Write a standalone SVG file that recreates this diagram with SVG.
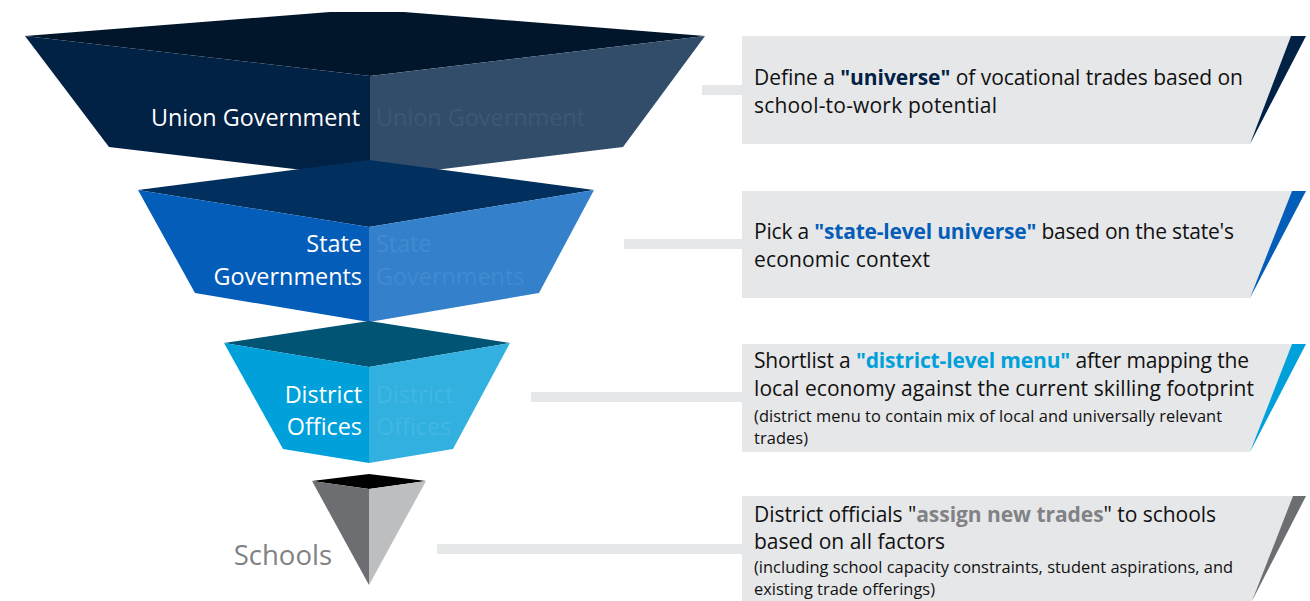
<svg xmlns="http://www.w3.org/2000/svg" width="1310" height="601" viewBox="0 0 1310 601">
<style>
  .lbl{font-family:"Open Sans","Noto Sans",sans-serif;font-size:23.4px;fill:#ffffff;text-anchor:end}
  .ghost{font-family:"Open Sans","Noto Sans",sans-serif;font-size:23.4px}
  .bar{fill:#e6e7e8}
  .box{fill:#e6e7e8}
  .bt{font-family:"Open Sans","Noto Sans",sans-serif;font-size:21px;fill:#111111}
  .sm{font-family:"Open Sans","Noto Sans",sans-serif;font-size:16.4px;fill:#111111}
  .b{font-weight:bold}
</style>
<rect width="1310" height="601" fill="#ffffff"/>

<g id="connectors">
  <rect class="bar" x="702" y="85" width="42" height="10"/>
  <rect class="bar" x="624" y="239" width="120" height="10"/>
  <rect class="bar" x="531" y="392" width="213" height="10"/>
  <rect class="bar" x="437" y="544" width="307" height="10"/>
</g>

<g id="union-government">
  <polygon points="25,36 330,12 404,12 705,36 370,76" fill="#01162b"/>
  <polygon points="25,36 370,76 370,178 109,147" fill="#012145"/>
  <polygon points="370,76 705,36 623,147 370,178" fill="#324d6a"/>
  <text class="lbl" x="360" y="126">Union Government</text>
  <text class="ghost" x="376" y="126" fill="#3b5876">Union Government</text>
</g>

<g id="state-governments">
  <polygon points="138,190 369,160 594,190 369,227" fill="#01305f"/>
  <polygon points="138,190 369,227 369,322 195,293" fill="#045db8"/>
  <polygon points="369,227 594,190 539,293 369,322" fill="#3580ca"/>
  <text class="lbl" x="362" y="252">State</text>
  <text class="lbl" x="362" y="285">Governments</text>
  <text class="ghost" x="376" y="252" fill="#418bd1">State</text>
  <text class="ghost" x="376" y="285" fill="#418bd1">Governments</text>
</g>

<g id="district-offices">
  <polygon points="224,343 369,321 510,343 369,367" fill="#025474"/>
  <polygon points="224,343 369,367 369,463 283,449" fill="#00a0da"/>
  <polygon points="369,367 510,343 453,449 369,463" fill="#32b0e0"/>
  <text class="lbl" x="362" y="403">District</text>
  <text class="lbl" x="362" y="435">Offices</text>
  <text class="ghost" x="376" y="403" fill="#42b7e3">District</text>
  <text class="ghost" x="376" y="435" fill="#42b7e3">Offices</text>
</g>

<g id="schools">
  <polygon points="312,481 369,474 426,481 369,489" fill="#000000"/>
  <polygon points="312,481 369,489 369,585" fill="#6d6e71"/>
  <polygon points="369,489 426,481 369,585" fill="#bcbec0"/>
  <text x="332" y="565" text-anchor="end" font-family="Open Sans, Noto Sans, sans-serif" font-size="27.5" fill="#808285">Schools</text>
</g>

<g id="box-union">
  <polygon class="box" points="742,36 1291,36 1250,144 742,144"/>
  <polygon points="1291,36 1306,36 1250,144" fill="#012145"/>
  <text class="bt" x="754" y="85" textLength="489" lengthAdjust="spacing">Define a <tspan class="b" fill="#012145">"universe"</tspan> of vocational trades based on</text>
  <text class="bt" x="754" y="113" textLength="243" lengthAdjust="spacing">school-to-work potential</text>
</g>

<g id="box-state">
  <polygon class="box" points="742,191 1292,191 1250,298 742,298"/>
  <polygon points="1292,191 1306,191 1250,298" fill="#045db8"/>
  <text class="bt" x="754" y="239" textLength="480" lengthAdjust="spacing">Pick a <tspan class="b" fill="#045db8">"state-level universe"</tspan> based on the state's</text>
  <text class="bt" x="754" y="267" textLength="176" lengthAdjust="spacing">economic context</text>
</g>

<g id="box-district">
  <polygon class="box" points="742,344 1292,344 1250,452 742,452"/>
  <polygon points="1292,344 1306,344 1250,452" fill="#00a0da"/>
  <text class="bt" x="754" y="368" textLength="495" lengthAdjust="spacing">Shortlist a <tspan class="b" fill="#00a0da">"district-level menu"</tspan> after mapping the</text>
  <text class="bt" x="754" y="396" textLength="500" lengthAdjust="spacing">local economy against the current skilling footprint</text>
  <text class="sm" x="754" y="422" textLength="468" lengthAdjust="spacing">(district menu to contain mix of local and universally relevant</text>
  <text class="sm" x="754" y="444" textLength="54" lengthAdjust="spacing">trades)</text>
</g>

<g id="box-schools">
  <polygon class="box" points="742,496 1293,496 1252,601 742,601"/>
  <polygon points="1293,496 1306,496 1252,601" fill="#6d6e71"/>
  <text class="bt" x="754" y="522" textLength="462" lengthAdjust="spacing">District officials "<tspan class="b" fill="#808285">assign new trades</tspan>" to schools</text>
  <text class="bt" x="754" y="549" textLength="191" lengthAdjust="spacing">based on all factors</text>
  <text class="sm" x="754" y="573" textLength="479" lengthAdjust="spacing">(including school capacity constraints, student aspirations, and</text>
  <text class="sm" x="754" y="595" textLength="181" lengthAdjust="spacing">existing trade offerings)</text>
</g>
</svg>
